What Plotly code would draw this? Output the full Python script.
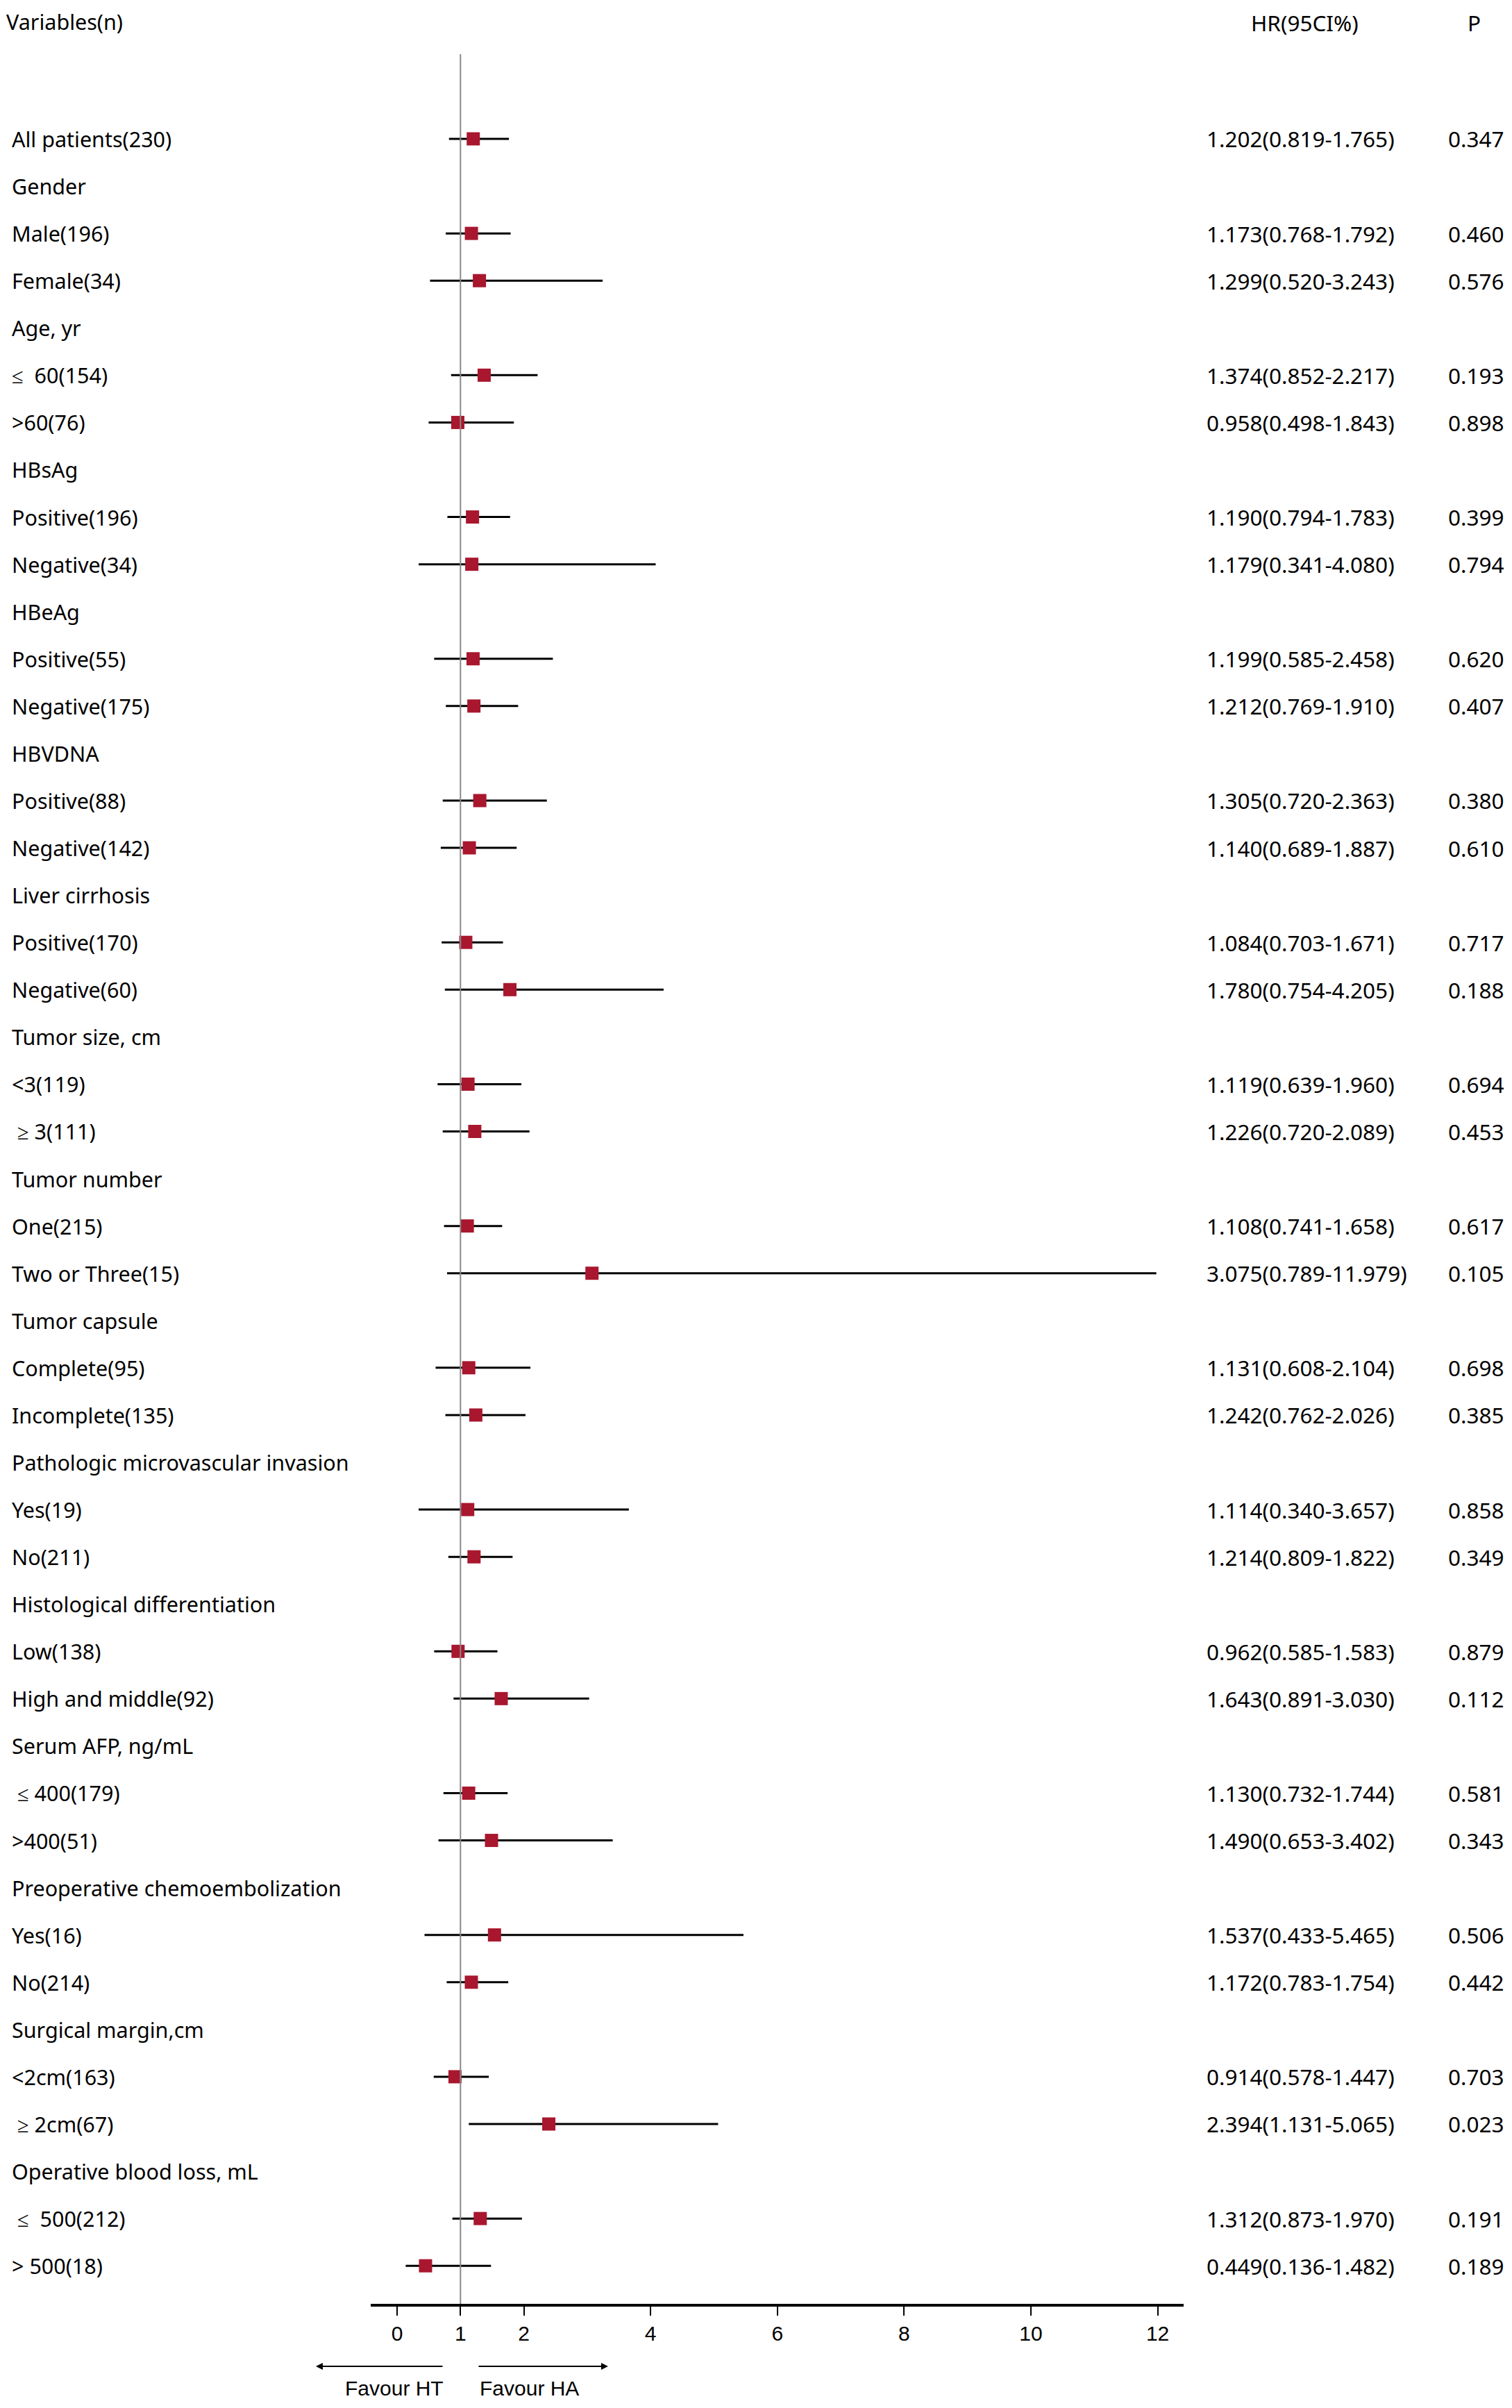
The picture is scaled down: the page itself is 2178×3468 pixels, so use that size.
import plotly.graph_objects as go

# Forest plot rows (None = group header row)
labels = [
    "All patients(230)", "Gender", "Male(196)", "Female(34)",
    "Age, yr", "≤  60(154)", ">60(76)",
    "HBsAg", "Positive(196)", "Negative(34)",
    "HBeAg", "Positive(55)", "Negative(175)",
    "HBVDNA", "Positive(88)", "Negative(142)",
    "Liver cirrhosis", "Positive(170)", "Negative(60)",
    "Tumor size, cm", "<3(119)", " ≥ 3(111)",
    "Tumor number", "One(215)", "Two or Three(15)",
    "Tumor capsule", "Complete(95)", "Incomplete(135)",
    "Pathologic microvascular invasion", "Yes(19)", "No(211)",
    "Histological differentiation", "Low(138)", "High and middle(92)",
    "Serum AFP, ng/mL", " ≤ 400(179)", ">400(51)",
    "Preoperative chemoembolization", "Yes(16)", "No(214)",
    "Surgical margin,cm", "<2cm(163)", " ≥ 2cm(67)",
    "Operative blood loss, mL", " ≤  500(212)", "> 500(18)",
]
hr = [
    1.202, None, 1.173, 1.299,
    None, 1.374, 0.958,
    None, 1.190, 1.179,
    None, 1.199, 1.212,
    None, 1.305, 1.140,
    None, 1.084, 1.780,
    None, 1.119, 1.226,
    None, 1.108, 3.075,
    None, 1.131, 1.242,
    None, 1.114, 1.214,
    None, 0.962, 1.643,
    None, 1.130, 1.490,
    None, 1.537, 1.172,
    None, 0.914, 2.394,
    None, 1.312, 0.449,
]
ci_low = [
    0.819, None, 0.768, 0.520,
    None, 0.852, 0.498,
    None, 0.794, 0.341,
    None, 0.585, 0.769,
    None, 0.720, 0.689,
    None, 0.703, 0.754,
    None, 0.639, 0.720,
    None, 0.741, 0.789,
    None, 0.608, 0.762,
    None, 0.340, 0.809,
    None, 0.585, 0.891,
    None, 0.732, 0.653,
    None, 0.433, 0.783,
    None, 0.578, 1.131,
    None, 0.873, 0.136,
]
ci_high = [
    1.765, None, 1.792, 3.243,
    None, 2.217, 1.843,
    None, 1.783, 4.080,
    None, 2.458, 1.910,
    None, 2.363, 1.887,
    None, 1.671, 4.205,
    None, 1.960, 2.089,
    None, 1.658, 11.979,
    None, 2.104, 2.026,
    None, 3.657, 1.822,
    None, 1.583, 3.030,
    None, 1.744, 3.402,
    None, 5.465, 1.754,
    None, 1.447, 5.065,
    None, 1.970, 1.482,
]
p_values = [
    "0.347", "", "0.460", "0.576",
    "", "0.193", "0.898",
    "", "0.399", "0.794",
    "", "0.620", "0.407",
    "", "0.380", "0.610",
    "", "0.717", "0.188",
    "", "0.694", "0.453",
    "", "0.617", "0.105",
    "", "0.698", "0.385",
    "", "0.858", "0.349",
    "", "0.879", "0.112",
    "", "0.581", "0.343",
    "", "0.506", "0.442",
    "", "0.703", "0.023",
    "", "0.191", "0.189",
]
x_ticks = [0, 1, 2, 4, 6, 8, 10, 12]

rows = list(range(len(labels)))
idx = [i for i in rows if hr[i] is not None]

label_font = dict(family="Noto Sans", size=30.5, color="black")
value_font = dict(family="Noto Sans", size=31.5, color="black")
axis_font = dict(family="Liberation Sans", size=30, color="black")

fig = go.Figure()

# CI whiskers + HR squares
fig.add_trace(go.Scatter(
    x=[hr[i] for i in idx],
    y=idx,
    mode="markers",
    marker=dict(symbol="square", size=19, color="#A8172E"),
    error_x=dict(
        type="data", symmetric=False,
        array=[ci_high[i] - hr[i] for i in idx],
        arrayminus=[hr[i] - ci_low[i] for i in idx],
        color="black", thickness=3, width=0,
    ),
    showlegend=False,
    hoverinfo="skip",
))

# reference line at HR = 1
fig.add_shape(type="line", x0=1, x1=1, y0=0, y1=1, xref="x", yref="paper",
              line=dict(color="#888888", width=2), layer="above")

annotations = []
for i in rows:
    annotations.append(dict(x=-0.443, y=i, xref="paper", yref="y", text=labels[i],
                            showarrow=False, xanchor="left", yanchor="middle",
                            font=label_font))
    if hr[i] is not None:
        annotations.append(dict(x=1.0265, y=i, xref="paper", yref="y",
                                text=f"{hr[i]:.3f}({ci_low[i]:.3f}-{ci_high[i]:.3f})",
                                showarrow=False, xanchor="left", yanchor="middle",
                                font=value_font))
        annotations.append(dict(x=1.3236, y=i, xref="paper", yref="y", text=p_values[i],
                                showarrow=False, xanchor="left", yanchor="middle",
                                font=value_font))

# column headers
annotations += [
    dict(x=-0.4497, y=1.0144, xref="paper", yref="paper", text="Variables(n)",
         showarrow=False, xanchor="left", yanchor="middle", font=label_font),
    dict(x=1.1494, y=1.0139, xref="paper", yref="paper", text="HR(95CI%)",
         showarrow=False, xanchor="center", yanchor="middle", font=value_font),
    dict(x=1.357, y=1.0139, xref="paper", yref="paper", text="P",
         showarrow=False, xanchor="center", yanchor="middle", font=value_font),
]

# favour arrows and captions
annotations += [
    dict(x=-0.0675, y=-0.0278, xref="paper", yref="paper", text="", showarrow=True,
         ax=184, ay=0, arrowhead=2, arrowsize=1, arrowwidth=2, arrowcolor="black"),
    dict(x=0.2920, y=-0.0278, xref="paper", yref="paper", text="", showarrow=True,
         ax=-188, ay=0, arrowhead=2, arrowsize=1, arrowwidth=2, arrowcolor="black"),
    dict(x=0.029, y=-0.0374, xref="paper", yref="paper", text="Favour HT",
         showarrow=False, xanchor="center", yanchor="middle", font=axis_font),
    dict(x=0.195, y=-0.0374, xref="paper", yref="paper", text="Favour HA",
         showarrow=False, xanchor="center", yanchor="middle", font=axis_font),
]

# page body keeps an 8px margin, so the figure is 16px smaller than the window
fig.update_layout(
    width=2162, height=3452,
    margin=dict(l=526, r=465, t=70, b=142),
    plot_bgcolor="white", paper_bgcolor="white",
    annotations=annotations,
    xaxis=dict(
        range=[-0.416, 12.41], tickvals=x_ticks, ticktext=[str(t) for t in x_ticks],
        showline=True, linecolor="black", linewidth=4,
        ticks="outside", ticklen=13, tickwidth=2, tickcolor="black",
        showgrid=False, zeroline=False, tickfont=axis_font,
    ),
    yaxis=dict(range=[45.805, -1.792], visible=False, showgrid=False, zeroline=False),
)

fig.write_html("out.html")
